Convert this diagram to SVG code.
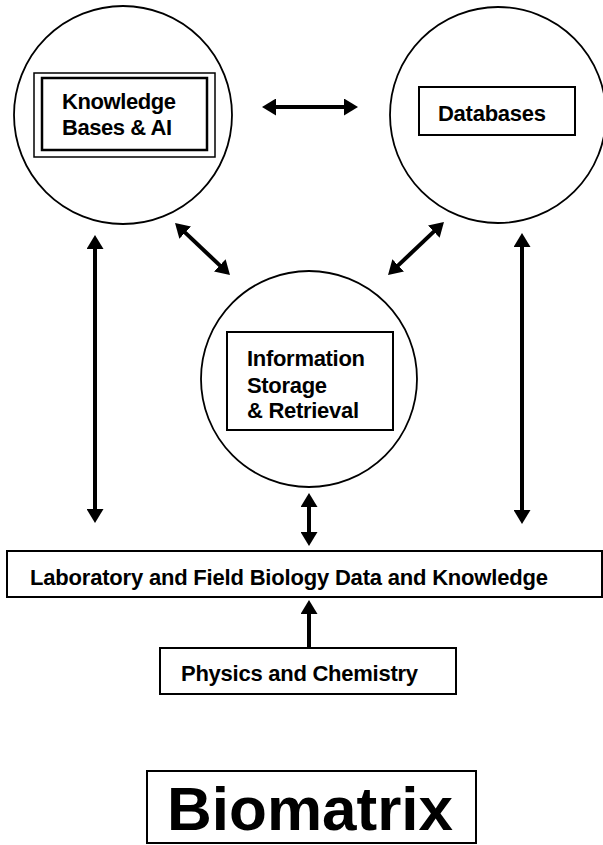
<svg xmlns="http://www.w3.org/2000/svg" width="603" height="845" viewBox="0 0 603 845">
<style>
  .circ { fill: none; stroke: #000; stroke-width: 1.8; }
  .box { fill: #fff; stroke: #000; stroke-width: 2; }
  .lbl { font-family: "Liberation Sans", Arial, Helvetica, sans-serif; font-weight: bold; font-size: 22px; fill: #000; }
  .big { font-family: "Liberation Sans", Arial, Helvetica, sans-serif; font-weight: bold; font-size: 62px; fill: #000; }
  .arr { stroke: #000; stroke-width: 4; fill: none; }
</style>
<defs>
  <marker id="ah" viewBox="0 0 14 17" refX="4" refY="8.5" markerWidth="14" markerHeight="17" markerUnits="userSpaceOnUse" orient="auto-start-reverse">
    <path d="M0,0 L14,8.5 L0,17 z" fill="#000"/>
  </marker>
</defs>
<rect width="603" height="845" fill="#fff"/>

<g id="knowledge">
  <circle class="circ" cx="123" cy="115" r="109"/>
  <rect x="34" y="73" width="181" height="84" fill="#fff" stroke="#000" stroke-width="1.5"/>
  <rect x="42" y="78" width="165" height="72" fill="none" stroke="#000" stroke-width="2.5"/>
  <text class="lbl" x="62" y="109" textLength="114">Knowledge</text>
  <text class="lbl" x="62" y="135" textLength="110">Bases &amp; AI</text>
</g>

<g id="databases">
  <circle class="circ" cx="498" cy="115" r="108"/>
  <rect class="box" x="419" y="87" width="156" height="48"/>
  <text class="lbl" x="438" y="121" textLength="108">Databases</text>
</g>

<g id="information">
  <circle class="circ" cx="309" cy="379" r="108"/>
  <rect class="box" x="227" y="332" width="166" height="98"/>
  <text class="lbl" x="247" y="366" textLength="118">Information</text>
  <text class="lbl" x="247" y="393" textLength="80">Storage</text>
  <text class="lbl" x="247" y="418" textLength="112">&amp; Retrieval</text>
</g>

<g id="lab">
  <rect class="box" x="7" y="551" width="595" height="46"/>
  <text class="lbl" x="30" y="585" textLength="518">Laboratory and Field Biology Data and Knowledge</text>
</g>

<g id="physics">
  <rect class="box" x="160" y="648" width="296" height="46"/>
  <text class="lbl" x="181" y="681" textLength="237">Physics and Chemistry</text>
</g>

<g id="biomatrix">
  <rect class="box" x="147" y="771" width="329" height="72"/>
  <text class="big" x="167" y="830" textLength="286">Biomatrix</text>
</g>

<g id="connectors">
  <line class="arr" x1="272" y1="107" x2="348" y2="107" marker-start="url(#ah)" marker-end="url(#ah)"/>
  <line class="arr" x1="182.3" y1="229.9" x2="222.7" y2="268.1" marker-start="url(#ah)" marker-end="url(#ah)"/>
  <line class="arr" x1="436.7" y1="228.9" x2="395.3" y2="268.1" marker-start="url(#ah)" marker-end="url(#ah)"/>
  <line class="arr" x1="95" y1="245" x2="95" y2="513" marker-start="url(#ah)" marker-end="url(#ah)"/>
  <line class="arr" x1="522" y1="243" x2="522" y2="514" marker-start="url(#ah)" marker-end="url(#ah)"/>
  <line class="arr" x1="309" y1="503" x2="309" y2="536" marker-start="url(#ah)" marker-end="url(#ah)"/>
  <line class="arr" x1="309" y1="648" x2="309" y2="610" marker-end="url(#ah)"/>
</g>
</svg>
